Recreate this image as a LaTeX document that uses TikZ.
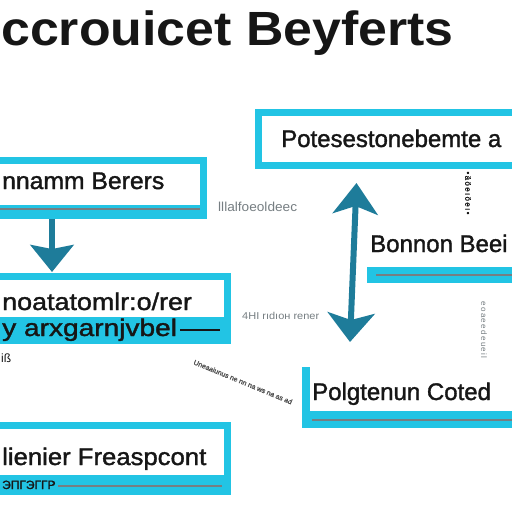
\documentclass[tikz,border=0pt]{standalone}
\usepackage{fontspec}
\setmainfont{Liberation Sans}
\newfontfamily\boxfont[FakeBold=1.4]{Liberation Sans}
\usetikzlibrary{arrows.meta}
\definecolor{cyanbox}{RGB}{34,196,228}
\definecolor{teal}{RGB}{30,124,154}
\definecolor{inkgray}{RGB}{118,126,130}
\definecolor{ink}{RGB}{22,22,22}
\begin{document}
\begin{tikzpicture}[x=1pt,y=-1pt,
  boxline/.style={draw=cyanbox,line width=7pt},
  barline/.style={draw=inkgray,line width=2.2pt},
  boxtext/.style={anchor=base west,inner sep=0pt,text=ink,font=\boxfont\fontsize{24}{28}\selectfont},
  tiny/.style={inner sep=0pt,text=inkgray,font=\fontsize{10}{12}\selectfont},
  tealarrow/.style={draw=teal,line width=6pt}]
\useasboundingbox (0,0) rectangle (512,512);
\fill[white] (0,0) rectangle (512,512);
% title
\node[anchor=base west,inner sep=0pt,text=ink,xscale=1.08,font=\fontsize{48}{52}\bfseries\selectfont] (title) at (1,45) {ccrouicet Beyferts};
% box 1 (top right)
\draw[boxline] (258.5,112.5) rectangle (540,165.5);
\node[boxtext] (t1) at (281,147) {Potesestonebemte a};
% box 2 (top left)
\draw[boxline] (-20,160.5) rectangle (203.5,208);
\fill[cyanbox] (-20,211) rectangle (207,219);
\draw[barline] (0,209) -- (200,209);
\node[boxtext,xscale=1.03] (t2) at (2,189) {nnamm Berers};
% box 3 (middle left)
\draw[boxline] (-20,276.5) rectangle (227,320);
\fill[cyanbox] (-20,324) rectangle (230.5,344);
\node[boxtext,xscale=1.12] (t3) at (2,310) {noatatomlr:o/rer};
\node[boxtext,xscale=1.17] (t3b) at (2,336) {y arxgarnjvbel};
\draw[draw=ink,line width=1.5pt] (180,330) -- (220,330);
% box 4 (middle right)
\node[boxtext] (t4) at (370,252) {Bonnon Beei};
\fill[cyanbox] (367,267) rectangle (540,283);
\draw[barline] (376,275) -- (540,275);
% box 5 (bottom right)
\fill[cyanbox] (302,367) rectangle (310,428);
\fill[cyanbox] (302,411) rectangle (540,428);
\draw[barline] (312,420) -- (540,420);
\node[boxtext] (t5) at (312,400) {Polgtenun Coted};
% box 6 (bottom left)
\draw[boxline] (-20,425.5) rectangle (227.5,480);
\fill[cyanbox] (-20,475) rectangle (231,495);
\node[boxtext,xscale=1.07] (t6) at (2,465) {lienier Freaspcont};
\draw[barline] (58,486) -- (222,486);
\node[tiny,anchor=base west,text=ink,font=\boxfont\fontsize{12}{12}\selectfont] (t6b) at (2,489) {ЭПГЭГГР};
% small labels
\node[tiny,anchor=west,xscale=1.05,font=\fontsize{13}{14}\selectfont] (l1) at (218,207) {lllalfoeoldeec};
\node[tiny,anchor=west,xscale=1.1,font=\fontsize{10}{11}\selectfont] (l2) at (242,316) {4HI rıdıoн rener};
\node[tiny,anchor=west,text=ink,font=\fontsize{12}{12}\selectfont] (l3) at (1,358) {iß};
\node[tiny,rotate=-22.4,text=ink!75,font=\boxfont\fontsize{7}{8}\selectfont] (l4) at (243,382) {Uneaaiunus ne nn na ws na as ad};
\node[tiny,rotate=-90,font=\boxfont\fontsize{8}{9}\selectfont,text=ink] (l5) at (468,193) {\textbullet\,ä\,ö\,e\,ı\,ö\,e\,ı\,\textbullet};
\node[tiny,rotate=-90,font=\fontsize{8}{9}\selectfont] (l6) at (484,330) {e\,o\,a\,e\,e\,d\,e\,u\,e\,i\,l};
% arrows
\coordinate (a1s) at (52,219);
\coordinate (a1e) at (52,272);
\draw[tealarrow,-{Stealth[length=27pt,width=43pt,inset=4pt]}] (a1s) -- (a1e);
\coordinate (a2s) at (350,342);
\coordinate (a2e) at (356.5,183);
\draw[tealarrow,{Stealth[length=29pt,width=47pt,inset=7pt]}-{Stealth[length=31pt,width=45pt,inset=8pt]}] (a2s) -- (a2e);
\end{tikzpicture}
\end{document}
